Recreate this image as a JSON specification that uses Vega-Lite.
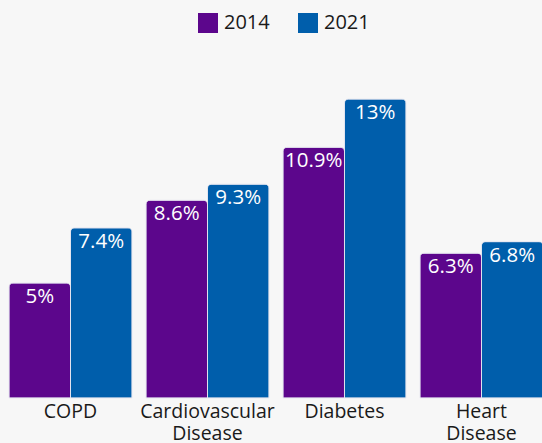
{
  "$schema": "https://vega.github.io/schema/vega-lite/v6.json",
  "width": 552,
  "height": 338,
  "autosize": {"type": "none"},
  "padding": {"left": 0, "top": 60, "right": 0, "bottom": 45},
  "background": "#f7f7f7",
  "config": {"view": {"stroke": null}, "font": "Open Sans"},
  "data": {"values": [
    {"disease": "COPD", "year": "2014", "value": 5},
    {"disease": "COPD", "year": "2021", "value": 7.4},
    {"disease": "Cardiovascular Disease", "year": "2014", "value": 8.6},
    {"disease": "Cardiovascular Disease", "year": "2021", "value": 9.3},
    {"disease": "Diabetes", "year": "2014", "value": 10.9},
    {"disease": "Diabetes", "year": "2021", "value": 13},
    {"disease": "Heart Disease", "year": "2014", "value": 6.3},
    {"disease": "Heart Disease", "year": "2021", "value": 6.8}
  ]},
  "transform": [{"calculate": "datum.value + '%'", "as": "label"}],
  "encoding": {
    "x": {"field": "disease", "type": "nominal", "sort": null, "title": null,
      "scale": {"paddingInner": 0.102, "paddingOuter": 0.0657},
      "axis": {"domain": false, "ticks": false, "labelAngle": 0, "labelFontSize": 19.5, "labelColor": "#1a1a1a", "labelPadding": 4, "labelLineHeight": 22, "labelExpr": "split(datum.label, ' ')", "labelBaseline": "top", "labelOverlap": false}},
    "xOffset": {"field": "year", "type": "nominal", "scale": {"paddingInner": 0, "paddingOuter": 0}},
    "y": {"field": "value", "type": "quantitative", "scale": {"domain": [0, 14.7]}, "axis": null}
  },
  "layer": [
    {"mark": {"type": "bar", "cornerRadiusTopLeft": 4, "cornerRadiusTopRight": 4, "stroke": "#e6e6f0", "strokeWidth": 0.8},
     "encoding": {"color": {"field": "year", "type": "nominal", "title": null,
       "scale": {"domain": ["2014", "2021"], "range": ["#5c068c", "#005eab"]},
       "legend": {"orient": "none", "direction": "horizontal", "legendX": 198, "legendY": -47, "symbolType": "square", "symbolSize": 400, "symbolStrokeWidth": 0, "labelFontSize": 20, "labelColor": "#1a1a1a", "labelOffset": 6, "columnPadding": 28}}}},
    {"mark": {"type": "text", "baseline": "top", "dy": 4, "fontSize": 20.5, "color": "white"},
     "encoding": {"text": {"field": "label"}}}
  ]
}
